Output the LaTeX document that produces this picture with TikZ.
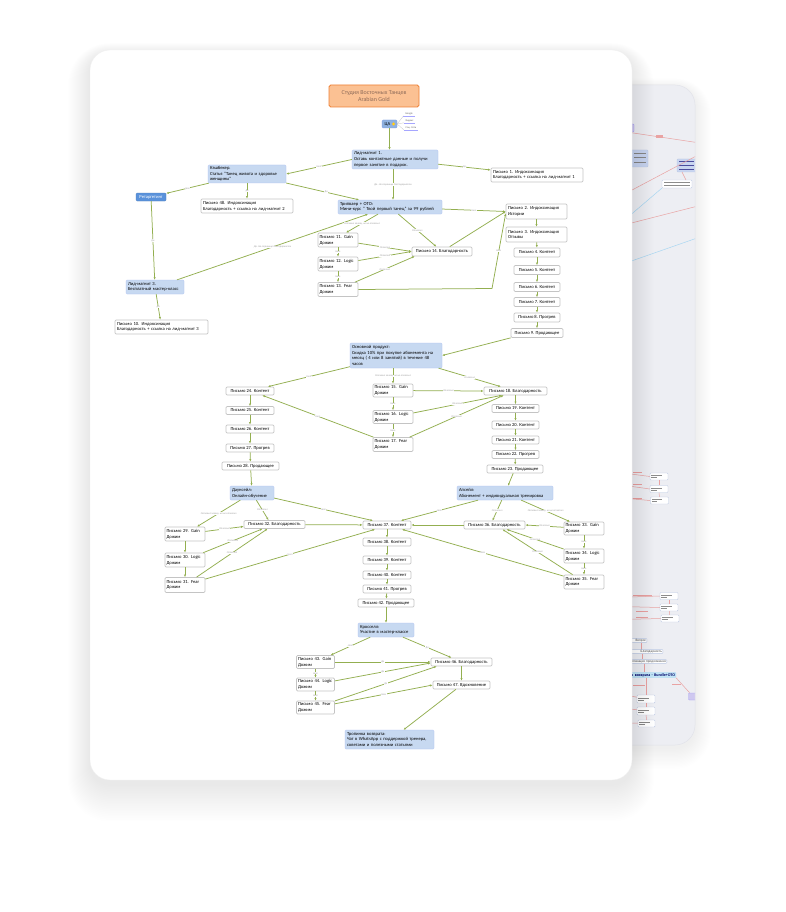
\documentclass[tikz,border=0pt]{standalone}
\usepackage{fontspec}
\setmainfont{Carlito}
\usetikzlibrary{arrows.meta}

\definecolor{wirecol}{HTML}{93AF50}
\definecolor{topicfill}{HTML}{C7D9F1}
\definecolor{mailrim}{HTML}{C4C4C4}
\definecolor{titlefill}{HTML}{FBC193}
\definecolor{titlerim}{HTML}{EF8236}
\definecolor{titleink}{HTML}{8E6B59}
\definecolor{retargetfill}{HTML}{5A92DB}
\definecolor{cafill}{HTML}{8EB2E0}
\definecolor{tagink}{HTML}{A0A0A0}
\definecolor{sheetback}{HTML}{EDEEF3}
\definecolor{sheetrim}{HTML}{E2E3EA}
\definecolor{mapred}{HTML}{E9A3A3}
\definecolor{mapblue}{HTML}{A8D6F2}
\definecolor{ghostrim}{HTML}{B9C6E2}
\definecolor{ghostblue}{HTML}{C9D5F0}
\definecolor{ghostpurple}{HTML}{CFC8F0}
\definecolor{ghostcyan}{HTML}{C2E6F7}

\begin{document}
\begin{tikzpicture}[x=1pt, y=-1pt,
  every node/.style={font=\fontsize{4.6}{5.7}\selectfont, text=black},
  sz/.style 2 args={minimum width=#1pt, minimum height=#2pt},
  szl/.style n args={3}{minimum width=#1pt, minimum height=#2pt, text width=#3pt},
  mail/.style={draw=mailrim, fill=white, line width=0.7pt, rounded corners=1.2pt, inner sep=0pt, align=left},
  topic/.style={fill=topicfill, draw=topicfill!88!blue, line width=0.3pt, rounded corners=1pt, inner sep=0pt, align=left},
  wire/.style={draw=wirecol, line width=0.75pt, -{Latex[length=2.6pt,width=2.2pt]}},
  tag/.style={font=\fontsize{2.6}{3}\selectfont\itshape, text=tagink, fill=white, inner sep=0.3pt},
  subtag/.style={font=\fontsize{2.6}{3}\selectfont, text=black!60, inner sep=0.6pt},
  ghostbox/.style={draw=ghostrim, fill=white, line width=0.4pt, rounded corners=0.8pt, inner sep=0pt},
  ghosttext/.style={font=\fontsize{3.4}{4}\selectfont, text=black!70, inner sep=0.8pt, align=right},
  redline/.style={draw=mapred, line width=0.5pt},
  blueline/.style={draw=mapblue, line width=0.5pt},
  textbar/.style={fill=black!45}
]
\useasboundingbox (0,0) rectangle (785,912);
\fill[white] (0,0) rectangle (785,912);

% ---------- second sheet, behind ----------
\foreach \i in {1,...,16}
  \fill[black, opacity=0.005, rounded corners={20+\i}] (540-\i, 88-\i*0.6) rectangle (695+\i, 748+\i*1.3);
\begin{scope}
  \fill[sheetback, rounded corners=20] (540,85) rectangle (695,745);
  \clip[rounded corners=20] (540,85) rectangle (695,745);
  % upper branch
  \draw[redline] (600,128) -- (700,143);
  \fill[mapred] (656,135.5) rectangle (663,137.6);
  \node[ghostbox, fill=ghostpurple, draw=ghostpurple!80!blue, sz={14}{8}] (b1) at (627,128) {};
  \node[ghostbox, fill=ghostblue, draw=ghostrim, sz={50}{17}] (b2) at (623,158.5) {};
  \foreach \yy in {153,157.5,162} \fill[textbar] (634,\yy) rectangle (646,\yy+0.7);
  \node[ghostbox, fill=ghostblue, draw=ghostrim, sz={26}{13}] (b3) at (690,165.5) {};
  \foreach \yy in {161,165,169} \fill[blue!45!black!70] (679,\yy) rectangle (694,\yy+0.7);
  \node[ghostbox, sz={30}{8}] (b4) at (677,184) {};
  \foreach \yy in {182,185.2} \fill[textbar] (664,\yy) rectangle (690,\yy+0.5);
  \draw[redline] (600,207) -- (700,154);
  \draw[redline] (682,172) -- (686,180);
  \draw[blueline] (600,241) -- (b4.south west);
  \draw[redline] (600,231) -- (700,205.5);
  \draw[blueline] (600,272) -- (700,237);
  % middle branch
  \foreach \yy/\ty in {476.5/470, 489/482, 500.5/496} {
    \draw[redline] (600,\ty) -- (650,\yy);
    \fill[mapred] (633,\ty+2.2) rectangle (642,\ty+3.4);
  }
  \node[ghostbox, sz={18}{7}] (m1) at (659,476.5) {};
  \node[ghostbox, sz={18}{7}] (m2) at (659,489) {};
  \node[ghostbox, sz={18}{7}] (m3) at (659.5,500.5) {};
  \foreach \nn in {m1,m2,m3} {
    \fill[textbar] ([xshift=1.5pt,yshift=1.2pt]\nn.west) rectangle ([xshift=12pt,yshift=0.6pt]\nn.west);
    \fill[textbar] ([xshift=1.5pt,yshift=-0.6pt]\nn.west) rectangle ([xshift=7pt,yshift=-1.2pt]\nn.west);
  }
  \draw[redline] (m1) -- (m2);
  \draw[redline] (m2) -- (m3);
  % lower branch
  \draw[redline] (600,598) -- (660,596);
  \fill[mapred] (633,594.5) rectangle (652,595.7);
  \draw[redline] (600,606) -- (660,607.5);
  \draw[redline] (600,620) -- (661,618.5);
  \fill[mapred] (636,611) rectangle (648,612.2);
  \fill[mapred] (636,616.5) rectangle (648,617.7);
  \node[ghostbox, sz={18}{7}] (n1) at (669,596) {};
  \node[ghostbox, sz={18}{7}] (n2) at (669,607.5) {};
  \node[ghostbox, sz={18}{7}] (n3) at (670,618.5) {};
  \foreach \nn in {n1,n2,n3} {
    \fill[textbar] ([xshift=1.5pt,yshift=1.2pt]\nn.west) rectangle ([xshift=12pt,yshift=0.6pt]\nn.west);
    \fill[textbar] ([xshift=1.5pt,yshift=-0.6pt]\nn.west) rectangle ([xshift=7pt,yshift=-1.2pt]\nn.west);
  }
  \draw[redline] (n1) -- (n2);
  \draw[redline] (n2) -- (n3);
  \node[ghostbox, ghosttext, anchor=east, text width=44pt] (r1) at (647,640.5) {Вопрос};
  \node[ghostbox, ghosttext, anchor=east, text width=60pt] (r2) at (663,651.5) {Благодарность};
  \node[ghostbox, ghosttext, anchor=east, text width=64pt] (r3) at (667,661.5) {мотивация продолжения};
  \node[ghostbox, ghosttext, fill=ghostcyan, draw=mapblue, anchor=east, text width=74pt, font=\bfseries\fontsize{4}{4.6}\selectfont, text=blue!40!black] (r4) at (676,675) {Тропинка возврата - Bundle+OTO};
  \draw[redline] (r1.south -| 641,0) -- (r2.north -| 641,0);
  \draw[redline] (r2.south -| 642,0) -- (r3.north -| 642,0);
  \draw[redline] (r3.south -| 644,0) -- (r4.north -| 644,0);
  \node[ghostbox, sz={18}{8}] (q1) at (646,699) {};
  \node[ghostbox, sz={18}{8}] (q2) at (646,711) {};
  \node[ghostbox, sz={17}{7}] (q3) at (646.5,723.5) {};
  \foreach \nn in {q1,q2,q3} {
    \fill[textbar] ([xshift=1.5pt,yshift=1.2pt]\nn.west) rectangle ([xshift=12pt,yshift=0.6pt]\nn.west);
    \fill[textbar] ([xshift=1.5pt,yshift=-0.6pt]\nn.west) rectangle ([xshift=7pt,yshift=-1.2pt]\nn.west);
  }
  \draw[redline] (r4.south -| 646,0) -- (q1);
  \draw[redline] (q1) -- (q2);
  \draw[redline] (q2) -- (q3);
  \draw[redline] (600,690) -- (q1);
  \draw[redline] (600,705) -- (q2);
  \draw[redline] (600,722) -- (q3);
  \fill[mapred] (633,685) rectangle (645,686.2);
  \node[ghostbox, fill=ghostpurple, draw=ghostpurple!80!blue, sz={9}{7}] (q4) at (693,696.5) {};
  \draw[redline] (r4.south east) -- (q4);
  \fill[mapred] (672,683.5) rectangle (681,684.7);
\end{scope}
\draw[sheetrim, line width=0.5pt, rounded corners=20] (540,85) rectangle (695,745);

% ---------- front sheet ----------
\foreach \i in {1,...,22}
  \fill[black, opacity=0.0045, rounded corners={20+\i}] (90-\i, 54-\i*0.5) rectangle (632+\i, 784+\i*1.7);
\fill[white, rounded corners=20] (90,50) rectangle (632,780);
\draw[black!6, line width=0.4pt, rounded corners=20] (90,50) rectangle (632,780);

% ---------- topics ----------
\node[topic, sz={90}{22}, fill=titlefill, draw=titlerim, line width=0.9pt, rounded corners=1.8pt, align=center, text=titleink, font=\fontsize{6}{7.4}\selectfont] (title) at (374,96) {Студия Восточных Танцев\\Arabian Gold};

\node[topic, sz={15}{8}, fill=cafill, draw=cafill!85!blue, align=center] (ca) at (389.5,124) {ЦА\hspace{4pt}};
\fill[yellow!85!orange] (393.6,124) circle (1.5);
\draw[orange!70, line width=0.2pt] (393.6,124) circle (1.5);
\node[subtag] (google) at (409,114) {Google};
\node[subtag] (yandex) at (409.5,121) {Яндекс};
\node[subtag] (social) at (411,128) {Соц. Сети};
\foreach \nn in {google, yandex, social} {
  \draw[blue!35, line width=0.6pt] ([xshift=-1pt]\nn.south west) -- ([xshift=1pt]\nn.south east);
  \draw[black!25, line width=0.25pt] (ca.east) -- ([xshift=-1pt]\nn.south west);
}

\node[topic, szl={86}{19}{82}] (lm1) at (395,159.5) {Лид-магнит 1.\\Оставь контактные данные и получи\\первое занятие в подарок.};
\node[mail, szl={92}{14}{88}] (p1) at (537,175) {Письмо 1. Индоксинация\\Благодарность + ссылка на лид-магнит 1};
\node[topic, szl={78}{18}{74}] (cash) at (247,174) {Кэшбекер.\\Статья "Танец живота и здоровье\\женщины"};
\node[topic, sz={30}{8}, fill=retargetfill, draw=retargetfill!85!black, text=white, align=center] (retarget) at (151,197) {Ретаргетинг};
\node[mail, szl={92}{14}{88}] (p48) at (247,206) {Письмо 48. Индоксинация\\Благодарность + ссылка на лид-магнит 2};
\node[topic, szl={104}{14}{100}] (trip) at (390,207) {Трипваер + ОТО:\\Мини-курс " Твой первый танец" за 99 рублей};

\node[mail, szl={61}{15}{57}] (p2) at (536.5,211.5) {Письмо 2. Индоксинация\\Истории};
\node[mail, szl={61}{15}{57}] (p3) at (536.5,234.5) {Письмо 3. Индоксинация\\Отзывы};
\node[mail, sz={46}{9}] (p4) at (537,252.5) {Письмо 4. Контент};
\node[mail, sz={46}{9}] (p5) at (537,270) {Письмо 5. Контент};
\node[mail, sz={46}{9}] (p6) at (537,287) {Письмо 6. Контент};
\node[mail, sz={46}{9}] (p7) at (537,302) {Письмо 7. Контент};
\node[mail, sz={46}{9}] (p8) at (537,317.5) {Письмо 8. Прогрев};
\node[mail, sz={52}{9}] (p9) at (537,333) {Письмо 9. Продающее};

\node[mail, szl={40}{14}{37}] (p11) at (338,240) {Письмо 11. Gain\\Дожим};
\node[mail, szl={40}{14}{37}] (p12) at (338,264) {Письмо 12. Logic\\Дожим};
\node[mail, szl={40}{14}{37}] (p13) at (338,289.5) {Письмо 13. Fear\\Дожим};
\node[mail, sz={60}{9}] (p14) at (442,251.5) {Письмо 14. Благодарность};
\coordinate (k13) at (492,288.5);

\node[topic, szl={58}{14}{54}] (lm3) at (155,287) {Лид-магнит 3.\\Бесплатный мастер-класс};
\node[mail, szl={93}{14}{89}] (p10) at (161.5,327) {Письмо 10. Индоксинация\\Благодарность + ссылка на лид-магнит 3};

\node[topic, szl={92}{25}{88}] (main) at (396,355.5) {Основной продукт:\\Скидка 10\% при покупке абонемента на\\месяц ( 4 или 8 занятий) в течение 48\\часов};

\node[mail, sz={48}{8}] (p24) at (250,391) {Письмо 24. Контент};
\node[mail, sz={48}{8}] (p25) at (250,410.5) {Письмо 25. Контент};
\node[mail, sz={48}{8}] (p26) at (250,429) {Письмо 26. Контент};
\node[mail, sz={48}{8}] (p27) at (250,448) {Письмо 27. Прогрев};
\node[mail, sz={57}{8}] (p28) at (250.5,466) {Письмо 28. Продающее};

\node[mail, szl={40}{13}{37}] (p15) at (393,390.5) {Письмо 15. Gain\\Дожим};
\node[mail, szl={40}{13}{37}] (p16) at (393,417) {Письмо 16. Logic\\Дожим};
\node[mail, szl={40}{14}{37}] (p17) at (393,444.5) {Письмо 17. Fear\\Дожим};

\node[mail, sz={63}{8}] (p18) at (515.5,391) {Письмо 18. Благодарность};
\node[mail, sz={47}{8}] (p19) at (515.5,408.5) {Письмо 19. Контент};
\node[mail, sz={47}{8}] (p20) at (515.5,425) {Письмо 20. Контент};
\node[mail, sz={47}{8}] (p21) at (515.5,440) {Письмо 21. Контент};
\node[mail, sz={47}{8}] (p22) at (515.5,454.5) {Письмо 22. Прогрев};
\node[mail, sz={56}{8}] (p23) at (515,469) {Письмо 23. Продающее};

\node[topic, szl={44}{14}{40}] (down) at (252,493) {Даунсейл:\\Онлайн-обучение};
\node[topic, szl={96}{14}{92}] (up) at (505,493) {Апсейл:\\Абонемент + индивидуальная тренировка};

\node[mail, szl={40}{14}{37}] (p29) at (185,534) {Письмо 29. Gain\\Дожим};
\node[mail, szl={40}{14}{37}] (p30) at (185,560) {Письмо 30. Logic\\Дожим};
\node[mail, szl={40}{15}{37}] (p31) at (185,585) {Письмо 31. Fear\\Дожим};
\node[mail, sz={61}{8}] (p32) at (274.5,524.5) {Письмо 32. Благодарность};
\node[mail, sz={48}{8}] (p37) at (387,525) {Письмо 37. Контент};
\node[mail, sz={61}{8}] (p36) at (494.5,525) {Письмо 36. Благодарность};
\node[mail, szl={40}{13}{37}] (p33) at (584,528.5) {Письмо 33. Gain\\Дожим};
\node[mail, szl={40}{14}{37}] (p34) at (584,556) {Письмо 34. Logic\\Дожим};
\node[mail, szl={40}{14}{37}] (p35) at (584,582) {Письмо 35. Fear\\Дожим};

\node[mail, sz={48}{8}] (p38) at (387,542) {Письмо 38. Контент};
\node[mail, sz={48}{8}] (p39) at (387,560) {Письмо 39. Контент};
\node[mail, sz={48}{8}] (p40) at (387,575) {Письмо 40. Контент};
\node[mail, sz={48}{8}] (p41) at (387,589) {Письмо 41. Прогрев};
\node[mail, sz={56}{8}] (p42) at (386,603) {Письмо 42. Продающее};

\node[topic, szl={56}{14}{52}] (cross) at (386,630) {Кросселл:\\Участие в мастер-классе};
\node[mail, szl={38}{13}{35}] (p43) at (315.5,662) {Письмо 43. Gain\\Дожим};
\node[mail, szl={38}{13}{35}] (p44) at (315.5,684.5) {Письмо 44. Logic\\Дожим};
\node[mail, szl={38}{13}{35}] (p45) at (315.5,707.5) {Письмо 45. Fear\\Дожим};
\node[mail, sz={61}{8}] (p46) at (461.5,662) {Письмо 46. Благодарность};
\node[mail, sz={57}{8}] (p47) at (461.5,685) {Письмо 47. Вдохновение};
\node[topic, szl={89}{19}{85}] (back) at (389.5,739.5) {Тропинка возврата:\\Чат в WhatsApp с поддержкой тренера,\\советами и полезными статьями};

% ---------- connectors: entry funnel ----------
\draw[wire] (ca.south) -- (ca.south |- lm1.north);
\draw[wire] (lm1.west) -- node[tag]{Нет} (cash.east);
\draw[wire] (lm1) -- node[tag]{Да} (p1);
\draw[wire] (lm1.south -| 393,0) -- node[tag]{Да. На странице благодарности} (trip.north -| 393,0);
\draw[wire] (cash) -- node[tag]{Нет} (retarget);
\draw[wire] (cash.south) -- node[tag]{Да} (p48.north);
\draw[wire] (cash) -- node[tag, pos=0.55]{Да} (trip);
\draw[wire] (retarget) -- node[tag]{Да} (lm3);
\draw[wire] ([xshift=22pt]lm3.north) -- node[tag]{Да. На странице благодарности} ([xshift=-22pt]trip.south);
\draw[wire] (lm3) -- node[tag]{Да} (p10);

% ---------- connectors: tripwire ----------
\draw[wire] ([xshift=-12pt]trip.south) -- node[tag]{Оставил заявку, но не оплатил} ([xshift=8pt]p11.north);
\draw[wire] (trip) -- node[tag]{Оплатил} (p14);
\draw[wire] (trip) -- node[tag]{Нет} (p2.west);
\draw[wire] (p11) -- node[tag]{Оплатил} (p14.west);
\draw[wire] (p12) -- node[tag]{Оплатил} (p14.west);
\draw[wire] (p13) -- node[tag]{Оплатил} ([xshift=3pt]p14.south west);
\draw[wire] (p11) -- node[tag]{Нет} (p12);
\draw[wire] (p12) -- node[tag]{Нет} (p13);
\draw[wire] (p13.east) -- (k13) -- node[tag]{Нет} ([yshift=-2pt]p2.west);
\draw[wire] (p14) -- (p2.west);
\draw[wire] (p2) -- (p3);
\draw[wire] (p3) -- (p4);
\draw[wire] (p4) -- (p5);
\draw[wire] (p5) -- (p6);
\draw[wire] (p6) -- (p7);
\draw[wire] (p7) -- (p8);
\draw[wire] (p8) -- (p9);
\draw[wire] (p9.south west) -- (main.east);

% ---------- connectors: main product ----------
\draw[wire] (main) -- node[tag]{Нет} (p24);
\draw[wire] (main.south -| 393,0) -- node[tag]{Оставил заявку, но не оплатил} (p15.north);
\draw[wire] (main) -- node[tag]{Оплатил} (p18);
\draw[wire] (p15) -- node[tag]{Оплатил} (p18.west);
\draw[wire] (p16) -- node[tag]{Оплатил} ([xshift=18pt]p18.south west);
\draw[wire] (p17) -- node[tag]{Оплатил} ([xshift=20pt]p18.south west);
\draw[wire] (p15) -- node[tag]{Нет} (p16);
\draw[wire] (p16) -- node[tag]{Нет} (p17);
\draw[wire] (p17) -- node[tag]{Нет} ([xshift=-12pt]p24.south east);
\draw[wire] (p24) -- (p25);
\draw[wire] (p25) -- (p26);
\draw[wire] (p26) -- (p27);
\draw[wire] (p27) -- (p28);
\draw[wire] (p28) -- (down);
\draw[wire] (p18) -- (p19);
\draw[wire] (p19) -- (p20);
\draw[wire] (p20) -- (p21);
\draw[wire] (p21) -- (p22);
\draw[wire] (p22) -- (p23);
\draw[wire] (p23) -- (up);

% ---------- connectors: downsell ----------
\draw[wire] (down) -- node[tag]{Оставил заявку, но не оплатил} ([xshift=12pt]p29.north);
\draw[wire] (down) -- node[tag]{Оплатил} ([xshift=-6pt]p32.north);
\draw[wire] (down) -- node[tag]{Нет} ([xshift=-14pt]p37.north);
\draw[wire] (p29) -- node[tag]{Оплатил} ([yshift=-2pt]p32.west);
\draw[wire] (p30) -- node[tag]{Оплатил} ([xshift=-12pt]p32.south);
\draw[wire] (p31) -- node[tag]{Оплатил} ([xshift=-7pt]p32.south);
\draw[wire] (p31) -- node[tag]{Нет} ([xshift=-12pt]p37.south);
\draw[wire] (p29) -- (p30);
\draw[wire] (p30) -- (p31);
\draw[wire] (p32) -- (p37);

% ---------- connectors: upsell ----------
\draw[wire] (up) -- node[tag]{Нет} ([xshift=14pt]p37.north);
\draw[wire] (up) -- node[tag]{Оплатил} ([xshift=-2pt]p36.north);
\draw[wire] (up) -- node[tag]{Оставил заявку, но не оплатил} ([xshift=-14pt]p33.north);
\draw[wire] (p33) -- node[tag]{Оплатил} (p36.east);
\draw[wire] (p34) -- node[tag]{Оплатил} ([xshift=12pt]p36.south);
\draw[wire] (p35) -- node[tag]{Оплатил} ([xshift=8pt]p36.south);
\draw[wire] (p35) -- node[tag]{Нет} ([xshift=15pt]p37.south);
\draw[wire] (p33) -- node[tag]{Нет} (p34);
\draw[wire] (p34) -- node[tag]{Нет} (p35);
\draw[wire] (p36) -- (p37);

% ---------- connectors: content chain and cross-sell ----------
\draw[wire] (p37) -- (p38);
\draw[wire] (p38) -- (p39);
\draw[wire] (p39) -- (p40);
\draw[wire] (p40) -- (p41);
\draw[wire] (p41) -- (p42);
\draw[wire] (p42) -- (cross);
\draw[wire] (cross) -- node[tag]{Нет} (p43);
\draw[wire] (cross) -- node[tag]{Да} ([xshift=-10pt]p46.north);
\draw[wire] (p43) -- node[tag]{Да} (p46.west);
\draw[wire] (p44) -- node[tag]{Да} ([yshift=-1pt]p46.west);
\draw[wire] (p45) -- node[tag]{Да} ([xshift=6pt]p46.south west);
\draw[wire] (p45) -- node[tag]{Нет} (p47.west);
\draw[wire] (p43) -- node[tag]{Нет} (p44);
\draw[wire] (p44) -- node[tag]{Нет} (p45);
\draw[wire] (p46) -- (p47);
\draw[wire] (p47) -- ([xshift=14pt]back.north);
\end{tikzpicture}
\end{document}
